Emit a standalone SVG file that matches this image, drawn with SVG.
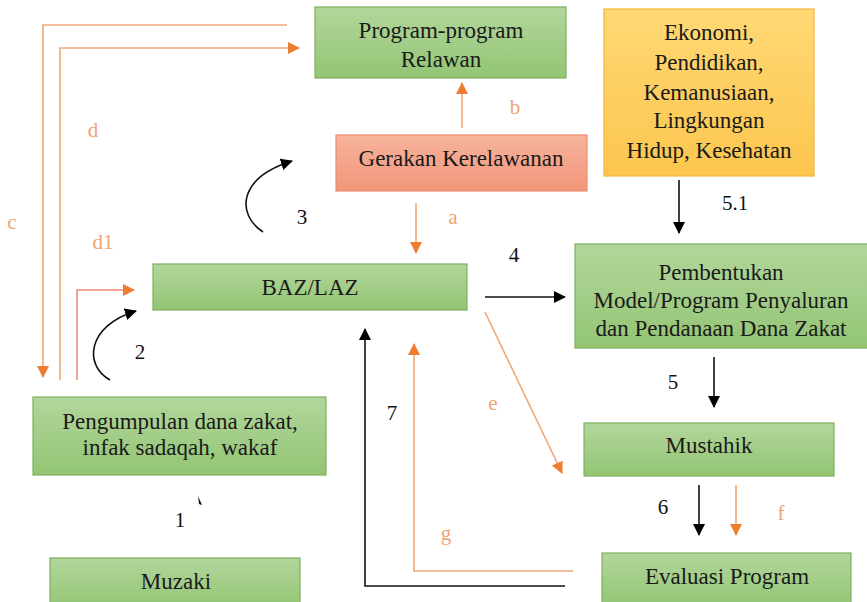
<svg xmlns="http://www.w3.org/2000/svg" width="867" height="602" viewBox="0 0 867 602" font-family="Liberation Serif, Times New Roman, Times, serif">
<defs>
<linearGradient id="gGreen" x1="0" y1="0" x2="0" y2="1">
<stop offset="0" stop-color="#b2d69b"/>
<stop offset="1" stop-color="#93c574"/>
</linearGradient>
<linearGradient id="gSalmon" x1="0" y1="0" x2="0" y2="1">
<stop offset="0" stop-color="#f7b39c"/>
<stop offset="1" stop-color="#f1967a"/>
</linearGradient>
<linearGradient id="gYellow" x1="0" y1="0" x2="0" y2="1">
<stop offset="0" stop-color="#ffd874"/>
<stop offset="1" stop-color="#fcc64e"/>
</linearGradient>
<marker id="aBlack" viewBox="0 0 12 12" refX="11" refY="6" markerWidth="12" markerHeight="12" markerUnits="userSpaceOnUse" orient="auto">
<path d="M0,0 L12,6 L0,12 Z" fill="#000"/>
</marker>
<marker id="aOrange" viewBox="0 0 12 12" refX="11" refY="6" markerWidth="12" markerHeight="12" markerUnits="userSpaceOnUse" orient="auto">
<path d="M0,0 L12,6 L0,12 Z" fill="#ed7d31"/>
</marker>
<style>
.green{fill:url(#gGreen);stroke:#7eb05e;stroke-width:1.2}
.salmon{fill:url(#gSalmon);stroke:#e98d6f;stroke-width:1.2}
.yellow{fill:url(#gYellow);stroke:#f2b53a;stroke-width:1.2}
.t{font-size:23px;fill:#1a1a1a;text-anchor:middle}
.lb{font-size:21px;fill:#111;text-anchor:middle}
.lo{font-size:21px;fill:#efa475;text-anchor:middle}
.cb{fill:none;stroke:#111;stroke-width:1.6}
.co{fill:none;stroke:#f0a878;stroke-width:1.6}
.cr{fill:none;stroke:#f08a78;stroke-width:1.6}
</style>
</defs>
<rect width="867" height="602" fill="#fff"/>

<g id="program-relawan">
<rect class="green" x="315" y="7" width="251" height="71"/>
<text class="t" x="441" y="38">Program-program</text>
<text class="t" x="441" y="67">Relawan</text>
</g>
<g id="gerakan-kerelawanan">
<rect class="salmon" x="336" y="135" width="251" height="56"/>
<text class="t" x="461" y="166">Gerakan Kerelawanan</text>
</g>
<g id="ekonomi">
<rect class="yellow" x="604" y="9" width="210" height="167"/>
<text class="t" x="709" y="40">Ekonomi,</text>
<text class="t" x="709" y="70">Pendidikan,</text>
<text class="t" x="709" y="100">Kemanusiaan,</text>
<text class="t" x="709" y="128">Lingkungan</text>
<text class="t" x="709" y="158">Hidup, Kesehatan</text>
</g>
<g id="baz-laz">
<rect class="green" x="153" y="264" width="314" height="46"/>
<text class="t" x="310" y="295">BAZ/LAZ</text>
</g>
<g id="pembentukan">
<rect class="green" x="575" y="244" width="295" height="104"/>
<text class="t" x="721" y="280">Pembentukan</text>
<text class="t" x="721" y="308">Model/Program Penyaluran</text>
<text class="t" x="721" y="336">dan Pendanaan Dana Zakat</text>
</g>
<g id="pengumpulan">
<rect class="green" x="33" y="397" width="293" height="78"/>
<text class="t" x="180" y="429">Pengumpulan dana zakat,</text>
<text class="t" x="180" y="455">infak sadaqah, wakaf</text>
</g>
<g id="mustahik">
<rect class="green" x="584" y="423" width="250" height="53"/>
<text class="t" x="709" y="453">Mustahik</text>
</g>
<g id="muzaki">
<rect class="green" x="50" y="558" width="250" height="50"/>
<text class="t" x="176" y="589">Muzaki</text>
</g>
<g id="evaluasi">
<rect class="green" x="602" y="553" width="249" height="55"/>
<text class="t" x="727" y="584">Evaluasi Program</text>
</g>

<g id="connectors">
<polyline class="co" points="287,25 43,25 43,377" marker-end="url(#aOrange)"/>
<polyline class="co" points="60,380 60,48 299,48" marker-end="url(#aOrange)"/>
<polyline class="cr" points="77,380 77,290 134,290" marker-end="url(#aOrange)"/>
<path class="cb" d="M263,232 C236,214 238,178 292,161" marker-end="url(#aBlack)"/>
<path class="cb" d="M110,380 C84,366 86,326 136,311" marker-end="url(#aBlack)"/>
<path d="M198,496 L202,505 L199,504 Z" fill="#111"/>
<line class="co" x1="462" y1="128" x2="462" y2="83" marker-end="url(#aOrange)"/>
<line class="co" x1="416" y1="203" x2="416" y2="253" marker-end="url(#aOrange)"/>
<line class="cb" x1="485" y1="297" x2="565" y2="297" marker-end="url(#aBlack)"/>
<line class="cb" x1="679" y1="180" x2="679" y2="233" marker-end="url(#aBlack)"/>
<line class="cb" x1="714" y1="357" x2="714" y2="407" marker-end="url(#aBlack)"/>
<line class="co" x1="485" y1="312" x2="562" y2="473" marker-end="url(#aOrange)"/>
<line class="cb" x1="699" y1="485" x2="699" y2="535" marker-end="url(#aBlack)"/>
<line class="co" x1="736" y1="485" x2="736" y2="535" marker-end="url(#aOrange)"/>
<polyline class="cb" points="565,586 365,586 365,329" marker-end="url(#aBlack)"/>
<polyline class="co" points="573,571 414,571 414,344" marker-end="url(#aOrange)"/>
</g>

<g id="labels">
<text class="lo" x="12" y="229">c</text>
<text class="lo" x="93" y="137">d</text>
<text class="lo" x="103" y="249">d1</text>
<text class="lb" x="302" y="224">3</text>
<text class="lb" x="140" y="359">2</text>
<text class="lb" x="180" y="527">1</text>
<text class="lo" x="515" y="114">b</text>
<text class="lo" x="453" y="224">a</text>
<text class="lb" x="514" y="262">4</text>
<text class="lb" x="735" y="210">5.1</text>
<text class="lb" x="673" y="389">5</text>
<text class="lo" x="493" y="410">e</text>
<text class="lb" x="392" y="420">7</text>
<text class="lb" x="663" y="514">6</text>
<text class="lo" x="781" y="520">f</text>
<text class="lo" x="446" y="540">g</text>
</g>
</svg>
